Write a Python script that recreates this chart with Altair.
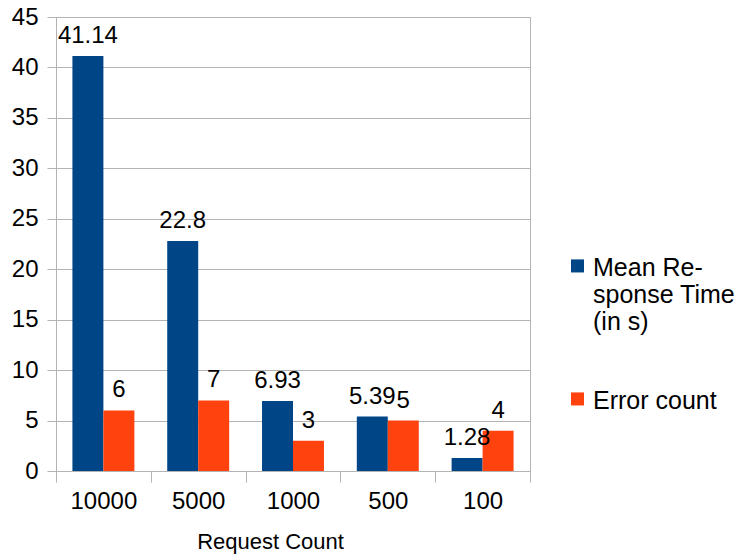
import altair as alt
import pandas as pd

# Request counts (categories) and the two measured series
request_counts = ["10000", "5000", "1000", "500", "100"]
mean_response_time = [41.14, 22.8, 6.93, 5.39, 1.28]
error_count = [6, 7, 3, 5, 4]

series_names = ["Mean Response Time (in s)", "Error count"]
series_colors = ["#004586", "#ff420e"]

rows = []
for i, rc in enumerate(request_counts):
    rows.append({"req": rc, "series": series_names[0], "value": mean_response_time[i]})
    rows.append({"req": rc, "series": series_names[1], "value": error_count[i]})
df = pd.DataFrame(rows)

FONT = "Liberation Sans"
GRID = "#b3b3b3"

x_enc = alt.X(
    "req:N",
    sort=request_counts,
    scale=alt.Scale(paddingInner=0, paddingOuter=0),
    axis=alt.Axis(
        title="Request Count",
        labelAngle=0,
        labelFontSize=24,
        labelPadding=7,
        labelColor="#000000",
        tickBand="extent",
        tickSize=11,
        tickColor=GRID,
        domain=True,
        domainColor=GRID,
        grid=False,
        titleFontSize=22,
        titleFontWeight="normal",
        titleColor="#000000",
        titleX=214,
        titleY=77,
        titleAlign="center",
        titleBaseline="alphabetic",
    ),
)
offset_enc = alt.XOffset(
    "series:N",
    sort=series_names,
    scale=alt.Scale(paddingInner=0, paddingOuter=0.53),
)
y_enc = alt.Y(
    "value:Q",
    scale=alt.Scale(domain=[0, 45], nice=False),
    axis=alt.Axis(
        title=None,
        values=list(range(0, 50, 5)),
        labelFontSize=24,
        labelPadding=9,
        labelColor="#000000",
        tickSize=9,
        tickColor=GRID,
        gridColor=GRID,
        domainColor=GRID,
    ),
)
# Labels hang from the entry's top edge (the long name wraps over three
# lines), so the square swatch is drawn a little lower to sit beside the
# first line of text.
SWATCH = "M-1,0.6H1V2.6H-1Z"
color_enc = alt.Color(
    "series:N",
    sort=series_names,
    scale=alt.Scale(domain=series_names, range=series_colors),
    legend=alt.Legend(
        title=None,
        orient="none",
        legendX=509,
        legendY=226,
        symbolType=SWATCH,
        symbolSize=170,
        symbolStrokeWidth=0,
        labelFontSize=25,
        labelColor="#000000",
        labelLimit=300,
        labelBaseline="top",
        labelOffset=3,
        rowPadding=41,
        labelExpr="datum.label == 'Mean Response Time (in s)' ? ['Mean Re-', 'sponse Time', '(in s)'] : datum.label",
    ),
)

bars = alt.Chart(df).mark_bar().encode(
    x=x_enc, xOffset=offset_enc, y=y_enc, color=color_enc
)

labels = alt.Chart(df).mark_text(
    baseline="alphabetic", dy=-13, fontSize=24, font=FONT, color="#000000"
).encode(
    x=alt.X("req:N", sort=request_counts),
    xOffset=alt.XOffset("series:N", sort=series_names),
    y="value:Q",
    text=alt.Text("value:Q"),
)

chart = (
    alt.layer(bars, labels)
    .properties(
        width=474,
        height=454,
        padding={"left": 56, "top": 17, "right": 206, "bottom": 84},
        autosize=alt.AutoSizeParams(type="none"),
    )
    .configure(font=FONT, background="white")
    .configure_view(stroke=GRID, strokeWidth=1)
    .configure_legend(labelFont=FONT)
)

chart.save("out.html", embed_options={"renderer": "svg", "actions": False})
